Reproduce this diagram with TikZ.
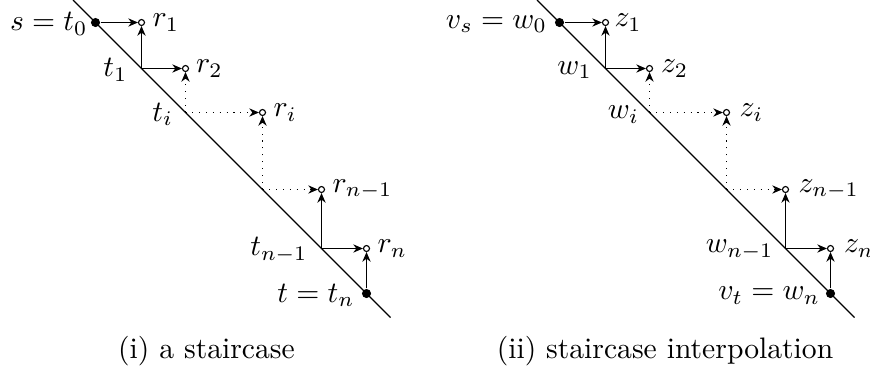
\RequirePackage{fix-cm}
\documentclass[tikz,border=0pt]{standalone}
\usetikzlibrary{arrows.meta}
\begin{document}
\begin{tikzpicture}[x=0.35088pt,y=-0.35088pt,
  every node/.style={font=\fontsize{10.4}{12.5}\selectfont},
  dotnode/.style={circle,fill=black,inner sep=0pt,minimum size=3.2pt},
  ringnode/.style={circle,draw=black,line width=0.4pt,fill=white,inner sep=0pt,minimum size=2.1pt},
  lab/.style={inner sep=0pt,anchor=east},
  rlab/.style={inner sep=0pt,anchor=west},
  arr/.style={-{Stealth[length=3.4pt,width=2.9pt]},line width=0.4pt},
  dotarr/.style={arr,dotted},
  diag/.style={line width=0.4pt}]
\useasboundingbox (0,0) rectangle (870,372);

% ---------- (i) ----------
\begin{scope}[name prefix=L-]
\coordinate (top) at (73,0);
\coordinate (bot) at (390.5,317.5);
\draw[diag] (top) -- (bot);
\node[dotnode] (t0) at (95.5,22.5) {};
\coordinate (t1) at (141.5,68.5);
\coordinate (ti) at (185.5,112.5);
\coordinate (c) at (262.5,189.5);
\coordinate (tn1) at (321.5,248.5);
\node[dotnode] (tn) at (366.5,293.5) {};
\node[ringnode] (r1) at (141.5,22.5) {};
\node[ringnode] (r2) at (185.5,68.5) {};
\node[ringnode] (ri) at (262.5,112.5) {};
\node[ringnode] (rn1) at (321.5,189.5) {};
\node[ringnode] (rn) at (366.5,248.5) {};
\draw[arr] (t0) -- (r1);
\draw[arr] (t1) -- (r1);
\draw[arr] (t1) -- (r2);
\draw[dotarr] (ti) -- (r2);
\draw[dotarr] (ti) -- (ri);
\draw[dotarr] (c) -- (ri);
\draw[dotarr] (c) -- (rn1);
\draw[arr] (tn1) -- (rn1);
\draw[arr] (tn1) -- (rn);
\draw[arr] (tn) -- (rn);
\node[lab] (lt0) at (88,24) {$s=t_0$};
\node[lab] (lt1) at (128,70) {$t_1$};
\node[lab] (lti) at (173.5,114.5) {$t_i$};
\node[lab] (ltn1) at (308,250) {$t_{n-1}$};
\node[lab] (ltn) at (355,295.5) {$t=t_n$};
\node[rlab] (lr1) at (152,22.5) {$r_1$};
\node[rlab] (lr2) at (195.5,68.5) {$r_2$};
\node[rlab] (lri) at (273,112.5) {$r_i$};
\node[rlab] (lrn1) at (332,189.5) {$r_{n-1}$};
\node[rlab] (lrn) at (377,248.5) {$r_n$};
\node (cap) at (206.5,351.5) {(i) a staircase};
\end{scope}

% ---------- (ii) ----------
\begin{scope}[name prefix=R-]
\coordinate (top) at (537,0);
\coordinate (bot) at (854.5,317.5);
\draw[diag] (top) -- (bot);
\node[dotnode] (t0) at (559.5,22.5) {};
\coordinate (t1) at (605.5,68.5);
\coordinate (ti) at (649.5,112.5);
\coordinate (c) at (726.5,189.5);
\coordinate (tn1) at (785.5,248.5);
\node[dotnode] (tn) at (830.5,293.5) {};
\node[ringnode] (r1) at (605.5,22.5) {};
\node[ringnode] (r2) at (649.5,68.5) {};
\node[ringnode] (ri) at (726.5,112.5) {};
\node[ringnode] (rn1) at (785.5,189.5) {};
\node[ringnode] (rn) at (830.5,248.5) {};
\draw[arr] (t0) -- (r1);
\draw[arr] (t1) -- (r1);
\draw[arr] (t1) -- (r2);
\draw[dotarr] (ti) -- (r2);
\draw[dotarr] (ti) -- (ri);
\draw[dotarr] (c) -- (ri);
\draw[dotarr] (c) -- (rn1);
\draw[arr] (tn1) -- (rn1);
\draw[arr] (tn1) -- (rn);
\draw[arr] (tn) -- (rn);
\node[lab] (lt0) at (547.5,24) {$v_s=w_0$};
\node[lab] (lt1) at (592.5,70) {$w_1$};
\node[lab] (lti) at (639.5,114.5) {$w_i$};
\node[lab] (ltn1) at (774,250) {$w_{n-1}$};
\node[lab] (ltn) at (820.5,295.5) {$v_t=w_n$};
\node[rlab] (lr1) at (614,22.5) {$z_1$};
\node[rlab] (lr2) at (660.5,68.5) {$z_2$};
\node[rlab] (lri) at (739,112.5) {$z_i$};
\node[rlab] (lrn1) at (798,189.5) {$z_{n-1}$};
\node[rlab] (lrn) at (843.5,248.5) {$z_n$};
\node (cap) at (665,351.5) {(ii) staircase interpolation};
\end{scope}
\end{tikzpicture}
\end{document}
